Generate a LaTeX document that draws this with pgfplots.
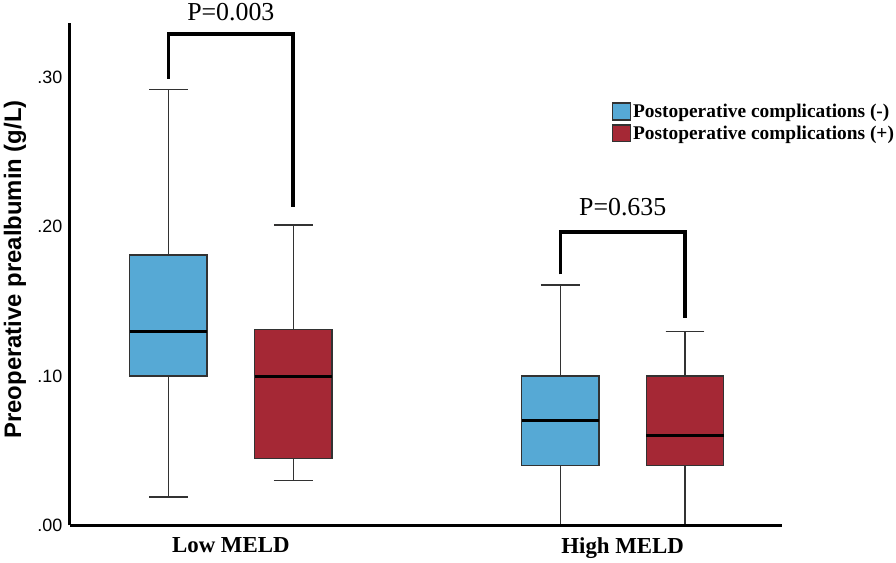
\documentclass[border=0pt]{standalone}
\usepackage{fontspec}
\setmainfont{Liberation Serif}
\newfontfamily\arial{Liberation Sans}
\usepackage{pgfplots}
\pgfplotsset{compat=1.18}
\usepgfplotslibrary{statistics}

\definecolor{boxblue}{RGB}{86,169,213}
\definecolor{boxred}{RGB}{165,40,53}
\definecolor{edge}{RGB}{50,50,50}

\begin{document}
\begin{tikzpicture}
\begin{axis}[
  name=ax,
  scale only axis,
  width=714bp, height=503bp,
  xmin=0.21, xmax=5.92,
  ymin=0, ymax=0.336,
  clip=false,
  axis on top,
  axis x line=bottom, axis y line=left,
  axis line style={line width=3bp, black, -},
  major tick length=0pt,
  ytick={0,0.1,0.2,0.3},
  yticklabels={.00,.10,.20,.30},
  yticklabel style={font=\arial\fontsize{18}{18}\selectfont, xshift=-4bp},
  xtick={1.5,4.64},
  xticklabels={Low MELD,High MELD},
  xticklabel style={font=\bfseries\fontsize{23}{23}\selectfont, yshift=-9bp},
  ylabel={Preoperative prealbumin (g/L)},
  ylabel style={at={(axis description cs:-0.077,0.51)}, anchor=center,
    font=\arial\bfseries\fontsize{24}{24}\selectfont},
  boxplot/draw direction=y,
  boxplot/box extend=0.62,
  boxplot/whisker extend=0.31,
  boxplot/every box/.style={draw=edge, line width=1.4bp},
  boxplot/every whisker/.style={draw=edge, line width=1.4bp},
  boxplot/every median/.style={draw=black, line width=3bp},
  legend style={at={(axis description cs:0.7605,0.844)}, anchor=north west,
    draw=none, fill=none, inner sep=0pt, row sep=3bp,
    font=\bfseries\fontsize{19.5}{19.5}\selectfont,
    nodes={inner sep=2bp}},
  legend cell align=left,
]
% Low MELD, complications (-)
\addplot[boxplot prepared={draw position=1,
    lower whisker=0.019, lower quartile=0.10, median=0.13,
    upper quartile=0.181, upper whisker=0.292},
  fill=boxblue, forget plot] coordinates {};
% Low MELD, complications (+)
\addplot[boxplot prepared={draw position=2,
    lower whisker=0.03, lower quartile=0.045, median=0.10,
    upper quartile=0.131, upper whisker=0.201},
  fill=boxred, forget plot] coordinates {};
% High MELD, complications (-)
\addplot[boxplot prepared={draw position=4.14,
    lower whisker=0.0, lower quartile=0.04, median=0.07,
    upper quartile=0.10, upper whisker=0.161},
  fill=boxblue, forget plot] coordinates {};
% High MELD, complications (+)
\addplot[boxplot prepared={draw position=5.14,
    lower whisker=0.0, lower quartile=0.04, median=0.06,
    upper quartile=0.10, upper whisker=0.13},
  fill=boxred, forget plot] coordinates {};

% significance brackets
\addplot[black, line width=3.5bp, line join=miter, forget plot]
  coordinates {(1,0.299) (1,0.329) (2,0.329) (2,0.213)};
\addplot[black, line width=3.5bp, line join=miter, forget plot]
  coordinates {(4.14,0.168) (4.14,0.1965) (5.14,0.1965) (5.14,0.139)};
\node[anchor=base, font=\fontsize{26}{26}\selectfont] at (axis cs:1.5,0.338) {P=0.003};
\node[anchor=base, font=\fontsize{26}{26}\selectfont] at (axis cs:4.64,0.2075) {P=0.635};

\addlegendimage{legend image code/.code={\draw[fill=boxblue, draw=edge, line width=1.2bp] (0bp,-8.5bp) rectangle (18bp,8.5bp);}}
\addlegendentry{Postoperative complications (-)}
\addlegendimage{legend image code/.code={\draw[fill=boxred, draw=edge, line width=1.2bp] (0bp,-8.5bp) rectangle (18bp,8.5bp);}}
\addlegendentry{Postoperative complications (+)}
\end{axis}
\path ([shift={(-70bp,-36.5bp)}]ax.south west) rectangle ([shift={(826bp,524.5bp)}]ax.south west);
\end{tikzpicture}
\end{document}
